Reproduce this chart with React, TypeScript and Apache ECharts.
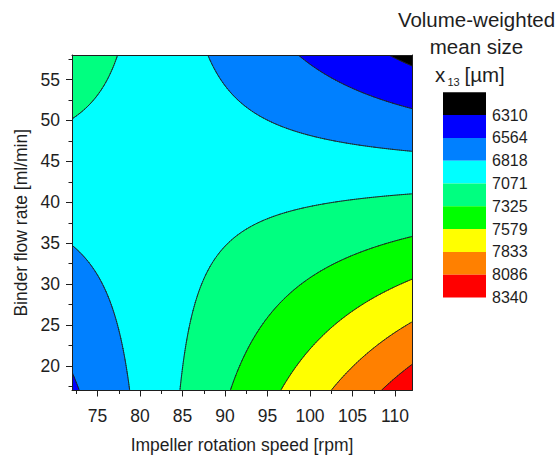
import React, { useEffect, useRef } from "react";
import * as echarts from "echarts";

// Design space of the two process factors
const speedRange = [72, 112]; // impeller rotation speed [rpm]
const flowRange = [17, 58]; // binder flow rate [ml/min]

// Response-surface model in coded factors:
// x13 = b0 + bA*A + bB*B + bAB*A*B,  A = (speed - 92)/20,  B = (flow - 37.5)/20.5
const codedCenter = [92, 37.5];
const codedHalfWidth = [20, 20.5];
const modelCoefficients = [7053, 190, -331, -667]; // b0, bA, bB, bAB

// Contour levels and fill colours (colour k fills levels[k-1] <= x13 < levels[k])
const contourLevels = [6310, 6564, 6818, 7071, 7325, 7579, 7833, 8086, 8340];
const bandColors = [
  "#000000",
  "#0000FF",
  "#0080FF",
  "#00FFFF",
  "#00FF80",
  "#00FF00",
  "#FFFF00",
  "#FF8000",
  "#FF0000",
];

const xMajorTicks = [75, 80, 85, 90, 95, 100, 105, 110];
const xMinorTicks = [72.5, 77.5, 82.5, 87.5, 92.5, 97.5, 102.5, 107.5];
const yMajorTicks = [20, 25, 30, 35, 40, 45, 50, 55];
const yMinorTicks = [17.5, 22.5, 27.5, 32.5, 37.5, 42.5, 47.5, 52.5, 57.5];

const FONT = "'Liberation Sans', Arial, Helvetica, sans-serif";
const INK = "#1e1e1e";
const GRID_STEPS = 160;

function responseAt(speed: number, flow: number): number {
  const [b0, bA, bB, bAB] = modelCoefficients;
  const a = (speed - codedCenter[0]) / codedHalfWidth[0];
  const b = (flow - codedCenter[1]) / codedHalfWidth[1];
  return b0 + bA * a + bB * b + bAB * a * b;
}

// Filled region made of many polygons, drawn as one path
const IsoBand = echarts.graphic.extendShape({
  shape: { rings: [] as number[][][] },
  buildPath(ctx: any, shape: any) {
    for (const ring of shape.rings) {
      ctx.moveTo(ring[0][0], ring[0][1]);
      for (let i = 1; i < ring.length; i++) ctx.lineTo(ring[i][0], ring[i][1]);
      ctx.closePath();
    }
  },
});
// Contour line made of short segments
const IsoLine = echarts.graphic.extendShape({
  shape: { segs: [] as number[][][] },
  buildPath(ctx: any, shape: any) {
    for (const s of shape.segs) {
      ctx.moveTo(s[0][0], s[0][1]);
      ctx.lineTo(s[1][0], s[1][1]);
    }
  },
});
echarts.graphic.registerShape("isoband", IsoBand);
echarts.graphic.registerShape("isoline", IsoLine);

function renderBand(params: any, api: any) {
  const k = params.dataIndex;
  const n = GRID_STEPS;
  const xs: number[] = [];
  const ys: number[] = [];
  const sp: number[] = [];
  const fl: number[] = [];
  for (let i = 0; i <= n; i++) {
    const s = speedRange[0] + ((speedRange[1] - speedRange[0]) * i) / n;
    const f = flowRange[0] + ((flowRange[1] - flowRange[0]) * i) / n;
    sp.push(s);
    fl.push(f);
    xs.push(api.coord([s, flowRange[0]])[0]);
    ys.push(api.coord([speedRange[0], f])[1]);
  }
  const z: number[][] = [];
  for (let j = 0; j <= n; j++) {
    const row: number[] = [];
    for (let i = 0; i <= n; i++) row.push(responseAt(sp[i], fl[j]));
    z.push(row);
  }
  const t = k === 0 ? -Infinity : contourLevels[k - 1];
  const rings: number[][][] = [];
  const segs: number[][][] = [];
  for (let j = 0; j < n; j++) {
    const y0 = ys[j];
    const y1 = ys[j + 1];
    let runStart = -1;
    const flush = (end: number) => {
      rings.push([
        [xs[runStart], y0],
        [xs[end], y0],
        [xs[end], y1],
        [xs[runStart], y1],
      ]);
      runStart = -1;
    };
    for (let i = 0; i < n; i++) {
      const cv = [z[j][i], z[j][i + 1], z[j + 1][i + 1], z[j + 1][i]];
      const cx = [xs[i], xs[i + 1], xs[i + 1], xs[i]];
      const cy = [y0, y0, y1, y1];
      const inn = cv.map((v) => v >= t);
      const cnt = inn.filter(Boolean).length;
      if (cnt === 4) {
        if (runStart < 0) runStart = i;
        continue;
      }
      if (runStart >= 0) flush(i);
      if (cnt === 0) continue;
      const poly: number[][] = [];
      const cross: number[][] = [];
      for (let e = 0; e < 4; e++) {
        const a = e;
        const b = (e + 1) % 4;
        if (inn[a]) poly.push([cx[a], cy[a]]);
        if (inn[a] !== inn[b]) {
          const s = (t - cv[a]) / (cv[b] - cv[a]);
          const p = [cx[a] + s * (cx[b] - cx[a]), cy[a] + s * (cy[b] - cy[a])];
          poly.push(p);
          cross.push(p);
        }
      }
      rings.push(poly);
      if (cross.length >= 2) segs.push([cross[0], cross[1]]);
      if (cross.length === 4) segs.push([cross[2], cross[3]]);
    }
    if (runStart >= 0) flush(n);
  }
  const children: any[] = [
    { type: "isoband", z2: k * 2, shape: { rings }, style: { fill: bandColors[k], stroke: null } },
  ];
  if (k > 0) {
    children.push({
      type: "isoline",
      z2: k * 2 + 1,
      shape: { segs },
      style: { fill: null, stroke: "#202020", lineWidth: 0.85, lineCap: "round" },
    });
  }
  return { type: "group", children };
}

const gridBox = { left: 72, top: 55, width: 340, height: 341 };
const legendBox = { x: 443, y: 92.3, width: 43, step: 22.8 };

export default function App() {
  const ref = useRef<HTMLDivElement>(null);

  useEffect(() => {
    if (!ref.current) return;
    const chart = echarts.init(ref.current, undefined, { renderer: "svg" });

    const labelStyle = { fontFamily: FONT, fontSize: 17.5, color: INK };

    const legendRects = bandColors.map((color, k) => ({
      type: "rect",
      shape: {
        x: legendBox.x,
        y: legendBox.y + k * legendBox.step,
        width: legendBox.width,
        height: legendBox.step,
      },
      style: { fill: color, stroke: null },
    }));
    const legendLabels = contourLevels.map((level, k) => ({
      type: "text",
      x: 492,
      y: legendBox.y + (k + 1) * legendBox.step,
      style: {
        text: String(level),
        font: `16px ${FONT}`,
        fill: INK,
        textAlign: "left",
        align: "left",
        textVerticalAlign: "middle",
        verticalAlign: "middle",
      },
    }));
    const titleText = (text: string, x: number, y: number, size: number, align = "center") => ({
      type: "text",
      x,
      y,
      style: {
        text,
        font: `${size}px ${FONT}`,
        fill: INK,
        textAlign: align,
        align,
        textVerticalAlign: "middle",
        verticalAlign: "middle",
      },
    });

    chart.setOption({
      animation: false,
      backgroundColor: "#ffffff",
      grid: { ...gridBox, containLabel: false },
      xAxis: [
        {
          type: "value",
          min: speedRange[0],
          max: speedRange[1],
          position: "bottom",
          z: 10,
          name: "Impeller rotation speed [rpm]",
          nameLocation: "middle",
          nameGap: 45.5,
          nameTextStyle: labelStyle,
          axisLine: { show: true, onZero: false, lineStyle: { color: INK, width: 1 } },
          axisTick: { show: true, customValues: xMajorTicks, length: 6, lineStyle: { color: INK } },
          axisLabel: { show: true, customValues: xMajorTicks, margin: 16.5, ...labelStyle },
          splitLine: { show: false },
        },
        {
          type: "value",
          min: speedRange[0],
          max: speedRange[1],
          position: "bottom",
          z: 10,
          axisLine: { show: false, onZero: false },
          axisTick: { show: true, customValues: xMinorTicks, length: 3.5, lineStyle: { color: INK } },
          axisLabel: { show: false },
          splitLine: { show: false },
        },
        {
          type: "value",
          min: speedRange[0],
          max: speedRange[1],
          position: "top",
          z: 10,
          axisLine: { show: true, onZero: false, lineStyle: { color: INK, width: 1 } },
          axisTick: { show: false },
          axisLabel: { show: false },
          splitLine: { show: false },
        },
      ],
      yAxis: [
        {
          type: "value",
          min: flowRange[0],
          max: flowRange[1],
          position: "left",
          z: 10,
          name: "Binder flow rate [ml/min]",
          nameLocation: "middle",
          nameGap: 42,
          nameTextStyle: labelStyle,
          axisLine: { show: true, onZero: false, lineStyle: { color: INK, width: 1 } },
          axisTick: { show: true, customValues: yMajorTicks, length: 6, lineStyle: { color: INK } },
          axisLabel: { show: true, customValues: yMajorTicks, margin: 12, ...labelStyle },
          splitLine: { show: false },
        },
        {
          type: "value",
          min: flowRange[0],
          max: flowRange[1],
          position: "left",
          z: 10,
          axisLine: { show: false, onZero: false },
          axisTick: { show: true, customValues: yMinorTicks, length: 3.5, lineStyle: { color: INK } },
          axisLabel: { show: false },
          splitLine: { show: false },
        },
        {
          type: "value",
          min: flowRange[0],
          max: flowRange[1],
          position: "right",
          z: 10,
          axisLine: { show: true, onZero: false, lineStyle: { color: INK, width: 1 } },
          axisTick: { show: false },
          axisLabel: { show: false },
          splitLine: { show: false },
        },
      ],
      series: [
        {
          type: "custom",
          coordinateSystem: "cartesian2d",
          xAxisIndex: 0,
          yAxisIndex: 0,
          silent: true,
          clip: true,
          renderItem: renderBand,
          data: bandColors.map((_, k) => [k, k]),
        },
      ],
      graphic: [
        titleText("Volume-weighted", 476.5, 19.5, 20.5),
        titleText("mean size", 476.5, 46, 20.5),
        titleText("x", 435, 74.5, 20.5, "left"),
        titleText("13", 447.5, 82.3, 11, "left"),
        titleText("[µm]", 464.5, 74.5, 20.5, "left"),
        ...legendRects,
        ...legendLabels,
      ],
    });

    return () => chart.dispose();
  }, []);

  return (
    <div
      ref={ref}
      style={{ position: "fixed", left: 0, top: 0, width: 560, height: 459, background: "#fff" }}
    />
  );
}
